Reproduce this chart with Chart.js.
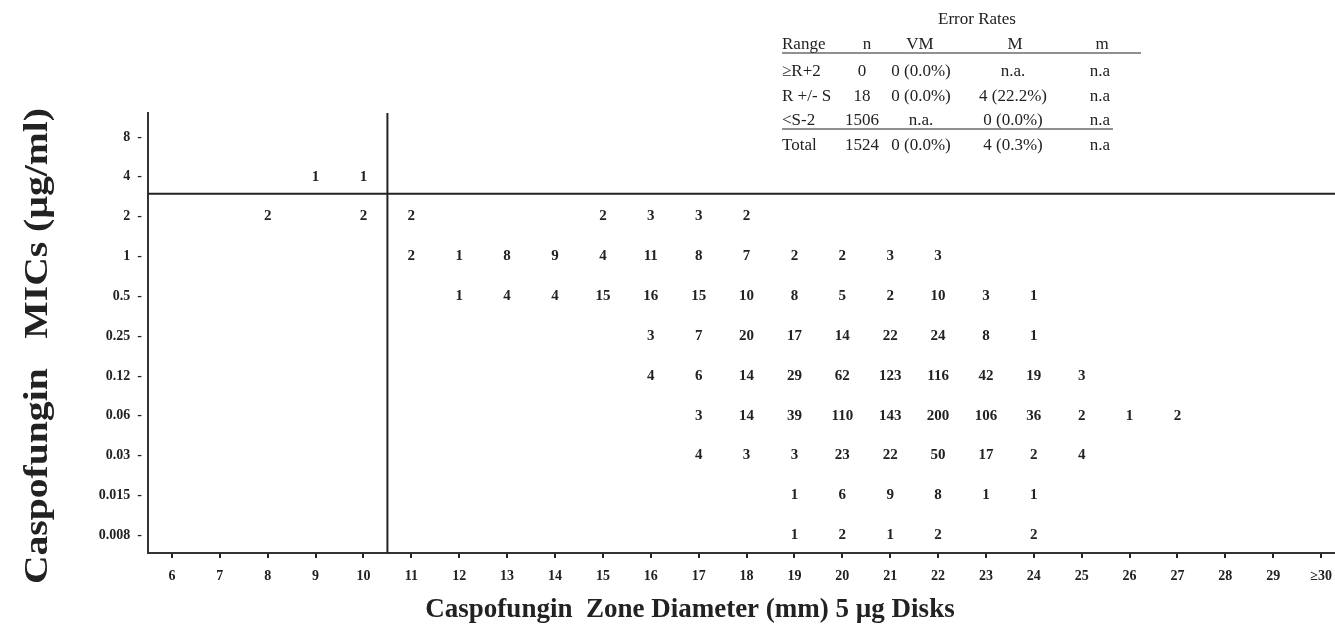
<!DOCTYPE html>
<html>
<head>
<meta charset="utf-8">
<script src="https://cdn.jsdelivr.net/npm/chart.js@4"></script>
<style>
  html, body { margin: 0; padding: 0; background: #fff; }
  #wrap { width: 1335px; height: 629px; position: relative; }
</style>
</head>
<body>
<div id="wrap"><canvas id="grafico"></canvas></div>
<script>
// =========================
// DATA
// =========================
const n = null;

// zone diameters (mm), 30 stands for ">=30"
const zones = [6, 7, 8, 9, 10, 11, 12, 13, 14, 15, 16, 17, 18, 19, 20, 21, 22, 23, 24, 25, 26, 27, 28, 29, 30];
const zoneLabels = ["6", "7", "8", "9", "10", "11", "12", "13", "14", "15", "16", "17", "18", "19", "20", "21", "22", "23", "24", "25", "26", "27", "28", "29", "≥30"];

// MIC rows, bottom to top
const micLabels = ["0.008", "0.015", "0.03", "0.06", "0.12", "0.25", "0.5", "1", "2", "4", "8"];

// counts per MIC row, one entry per zone
const mic0008 = [n,n,n,n,n, n,n,n,n,n, n,n,n,1,2, 1,2,n,2,n, n,n,n,n,n];
const mic0015 = [n,n,n,n,n, n,n,n,n,n, n,n,n,1,6, 9,8,1,1,n, n,n,n,n,n];
const mic003  = [n,n,n,n,n, n,n,n,n,n, n,4,3,3,23, 22,50,17,2,4, n,n,n,n,n];
const mic006  = [n,n,n,n,n, n,n,n,n,n, n,3,14,39,110, 143,200,106,36,2, 1,2,n,n,n];
const mic012  = [n,n,n,n,n, n,n,n,n,n, 4,6,14,29,62, 123,116,42,19,3, n,n,n,n,n];
const mic025  = [n,n,n,n,n, n,n,n,n,n, 3,7,20,17,14, 22,24,8,1,n, n,n,n,n,n];
const mic05   = [n,n,n,n,n, n,1,4,4,15, 16,15,10,8,5, 2,10,3,1,n, n,n,n,n,n];
const mic1    = [n,n,n,n,n, 2,1,8,9,4, 11,8,7,2,2, 3,3,n,n,n, n,n,n,n,n];
const mic2    = [n,n,2,n,2, 2,n,n,n,2, 3,3,2,n,n, n,n,n,n,n, n,n,n,n,n];
const mic4    = [n,n,n,1,1, n,n,n,n,n, n,n,n,n,n, n,n,n,n,n, n,n,n,n,n];
const mic8    = [n,n,n,n,n, n,n,n,n,n, n,n,n,n,n, n,n,n,n,n, n,n,n,n,n];

const micRows = [mic0008, mic0015, mic003, mic006, mic012, mic025, mic05, mic1, mic2, mic4, mic8];

// breakpoints (zone between 10 and 11, MIC between 2 and 4)
const zoneBreak = 10.5;
const micBreak  = 8.57;

// error rate table
const tableTitle = "Error Rates";
const tableHead  = ["Range", "n", "VM", "M", "m"];
const colRange   = ["≥R+2", "R +/- S", "<S-2", "Total"];
const colN       = ["0", "18", "1506", "1524"];
const colVM      = ["0 (0.0%)", "0 (0.0%)", "n.a.", "0 (0.0%)"];
const colM       = ["n.a.", "4 (22.2%)", "0 (0.0%)", "4 (0.3%)"];
const colMinor   = ["n.a", "n.a", "n.a", "n.a"];

const xTitle = "Caspofungin  Zone Diameter (mm) 5 µg Disks";
const yTitle = "Caspofungin   MICs (µg/ml)";

// =========================
// LAYOUT
// =========================
const SERIF = '"Liberation Serif", "Times New Roman", serif';
const INK = "#222";
const xMin = 5.5, xMax = 30.29;
const yMin = -0.445, yMax = 10.6;

// =========================
// DATASETS
// =========================
const datasets = micRows.map((row, yi) => ({
  type: "scatter",
  label: micLabels[yi],
  data: zones
    .map((z, i) => ({ x: z, y: yi, count: row[i] }))
    .filter(p => p.count !== null),
  pointRadius: 0,
  pointHoverRadius: 0
}));

datasets.push({
  type: "line",
  data: [{ x: zoneBreak, y: yMin }, { x: zoneBreak, y: yMax }],
  borderColor: INK, borderWidth: 2, pointRadius: 0, clip: false
});
datasets.push({
  type: "line",
  data: [{ x: xMin, y: micBreak }, { x: xMax, y: micBreak }],
  borderColor: INK, borderWidth: 2, pointRadius: 0, clip: false
});

// =========================
// PLUGINS
// =========================
const countLabels = {
  id: "countLabels",
  afterDatasetsDraw(chart) {
    const ctx = chart.ctx;
    ctx.save();
    ctx.font = "bold 15px " + SERIF;
    ctx.fillStyle = INK;
    ctx.textAlign = "center";
    ctx.textBaseline = "middle";
    chart.data.datasets.forEach((ds, di) => {
      if (ds.type !== "scatter") return;
      const meta = chart.getDatasetMeta(di);
      meta.data.forEach((el, i) => {
        ctx.fillText(String(ds.data[i].count), el.x, el.y);
      });
    });
    ctx.restore();
  }
};

const extras = {
  id: "extras",
  afterDraw(chart) {
    const ctx = chart.ctx;
    ctx.save();
    ctx.fillStyle = INK;
    ctx.strokeStyle = INK;

    // axis titles
    ctx.font = "bold 27px " + SERIF;
    ctx.textAlign = "center";
    ctx.textBaseline = "middle";
    ctx.fillText(xTitle, 690, 610);

    ctx.save();
    ctx.translate(38, 346);
    ctx.rotate(-Math.PI / 2);
    ctx.scale(1.2, 1);
    ctx.font = "bold 33px " + SERIF;
    ctx.fillText(yTitle, 0, 0);
    ctx.restore();

    // error rate table
    ctx.font = "17px " + SERIF;
    ctx.textBaseline = "middle";
    ctx.fillText(tableTitle, 977, 20);

    const rowY = [72, 97, 121, 146];
    const cx = [862, 921, 1013, 1100];
    ctx.textAlign = "left";
    ctx.fillText(tableHead[0], 782, 45);
    ctx.textAlign = "center";
    ctx.fillText(tableHead[1], 867, 45);
    ctx.fillText(tableHead[2], 920, 45);
    ctx.fillText(tableHead[3], 1015, 45);
    ctx.fillText(tableHead[4], 1102, 45);

    rowY.forEach((y, r) => {
      ctx.textAlign = "left";
      ctx.fillText(colRange[r], 782, y);
      ctx.textAlign = "center";
      ctx.fillText(colN[r], cx[0], y);
      ctx.fillText(colVM[r], cx[1], y);
      ctx.fillText(colM[r], cx[2], y);
      ctx.fillText(colMinor[r], cx[3], y);
    });

    ctx.lineWidth = 1.2;
    ctx.beginPath();
    ctx.moveTo(782, 53); ctx.lineTo(1141, 53);
    ctx.moveTo(782, 129); ctx.lineTo(1113, 129);
    ctx.stroke();

    ctx.restore();
  }
};

// =========================
// CHART
// =========================
new Chart(document.getElementById("grafico"), {
  data: { datasets },
  options: {
    responsive: true,
    maintainAspectRatio: false,
    animation: false,
    layout: { padding: { top: 113, right: 0, left: 0, bottom: 0 } },
    plugins: {
      legend: { display: false },
      tooltip: { enabled: false }
    },
    scales: {
      x: {
        type: "linear",
        min: xMin,
        max: xMax,
        afterBuildTicks: s => { s.ticks = zones.map(v => ({ value: v })); },
        afterFit: s => { s.height = 76; s.paddingLeft = 0; s.paddingRight = 0; },
        ticks: {
          autoSkip: false,
          maxRotation: 0,
          padding: 10,
          color: INK,
          font: { family: SERIF, size: 14, weight: "bold" },
          callback: v => zoneLabels[zones.indexOf(v)]
        },
        grid: { drawOnChartArea: false, drawTicks: true, tickLength: 5, color: INK, lineWidth: 2 },
        border: { display: true, color: "#333", width: 2 }
      },
      y: {
        type: "linear",
        min: yMin,
        max: yMax,
        afterBuildTicks: s => { s.ticks = micLabels.map((_, i) => ({ value: i })); },
        afterFit: s => { s.width = 148; s.paddingTop = 0; s.paddingBottom = 0; },
        ticks: {
          autoSkip: false,
          padding: 6,
          color: INK,
          font: { family: SERIF, size: 14, weight: "bold" },
          callback: v => micLabels[v] + "  -"
        },
        grid: { display: false, drawTicks: false },
        border: { display: true, color: "#333", width: 2 }
      }
    }
  },
  plugins: [countLabels, extras]
});
</script>
</body>
</html>
